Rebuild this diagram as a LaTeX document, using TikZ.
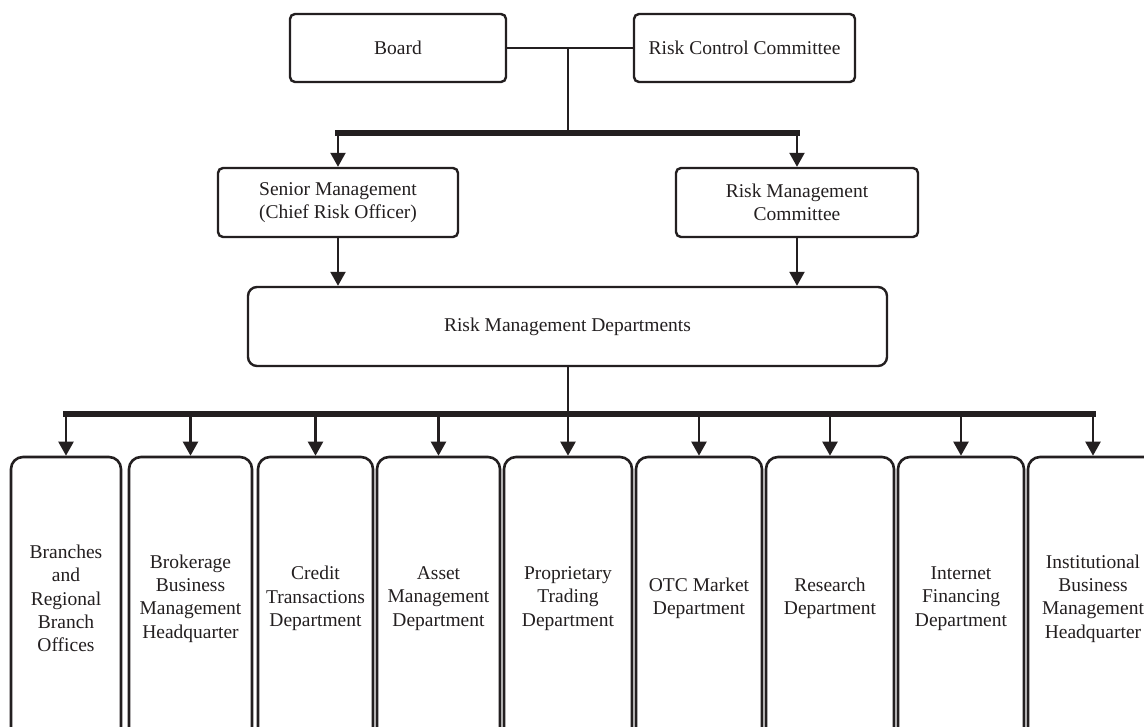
\documentclass[tikz,border=0pt]{standalone}
\usepackage{fontspec}
\setmainfont{Liberation Serif}
\usetikzlibrary{arrows.meta}
\definecolor{ink}{HTML}{231F20}
\begin{document}
\begin{tikzpicture}[x=1pt,y=-1pt,
  txt/.style={font=\fontsize{19.5}{23.3}\selectfont, text=ink, align=center},
  topbox/.style={txt, draw=ink, line width=2.4pt, rounded corners=5pt, inner sep=0pt},
  midbox/.style={txt, draw=ink, line width=2.4pt, rounded corners=9pt, inner sep=0pt},
  dept/.style={txt, draw=ink, line width=2.6pt, rounded corners=12pt, inner sep=0pt, minimum height=283pt},
  link/.style={draw=ink, line width=2.2pt},
  arr/.style={draw=ink, line width=2.2pt, -{Triangle[length=14pt,width=15pt]}},
  bar/.style={draw=ink, line width=5.5pt, line cap=rect}
]
\useasboundingbox (0,0) rectangle (1144,727);
\clip (0,0) rectangle (1144,727);
\fill[white] (0,0) rectangle (1144,727);

% top level
\node[topbox, minimum width=216pt, minimum height=68pt] (board) at (398,48) {Board};
\node[topbox, minimum width=221pt, minimum height=68pt] (rcc) at (744.5,48) {Risk Control Committee};
\coordinate (j) at (568,48);
\coordinate (bar1) at (0,133);

% second level
\node[topbox, minimum width=240pt, minimum height=69pt] (sm) at (338,202.5) {Senior Management\\(Chief Risk Officer)};
\node[topbox, minimum width=242pt, minimum height=69pt] (rmc) at (797,202.5) {Risk Management\\Committee};

% third level
\node[midbox, minimum width=639pt, minimum height=79pt] (rmd) at (567.5,326.5) {Risk Management Departments};
\coordinate (bar2) at (0,414);

% departments
\node[dept, minimum width=110pt] (d1) at (66,598.5) {Branches\\and\\Regional\\Branch\\Offices};
\node[dept, minimum width=123pt] (d2) at (190.5,598.5) {Brokerage\\Business\\Management\\Headquarter};
\node[dept, minimum width=115pt] (d3) at (315.5,598.5) {Credit\\Transactions\\Department};
\node[dept, minimum width=123pt] (d4) at (438.5,598.5) {Asset\\Management\\Department};
\node[dept, minimum width=128pt] (d5) at (568,598.5) {Proprietary\\Trading\\Department};
\node[dept, minimum width=126pt] (d6) at (699,598.5) {OTC Market\\Department};
\node[dept, minimum width=128pt] (d7) at (830,598.5) {Research\\Department};
\node[dept, minimum width=126pt] (d8) at (961,598.5) {Internet\\Financing\\Department};
\node[dept, minimum width=130pt] (d9) at (1093,598.5) {Institutional\\Business\\Management\\Headquarter};

% connectors top
\draw[link] (board.east) -- (rcc.west);
\draw[link] (j) -- (j |- bar1);
\draw[bar] (sm.north |- bar1) -- (rmc.north |- bar1);
\draw[arr] (sm.north |- bar1) -- (sm.north);
\draw[arr] (rmc.north |- bar1) -- (rmc.north);
\draw[arr] (sm.south) -- (sm.south |- rmd.north);
\draw[arr] (rmc.south) -- (rmc.south |- rmd.north);

% connectors bottom
\draw[link] (rmd.south -| j) -- (j |- bar2);
\draw[bar] (d1.north |- bar2) -- (d9.north |- bar2);
\foreach \d in {d1,d2,d3,d4,d5,d6,d7,d8,d9}
  \draw[arr] (\d.north |- bar2) -- (\d.north);
\end{tikzpicture}
\end{document}
